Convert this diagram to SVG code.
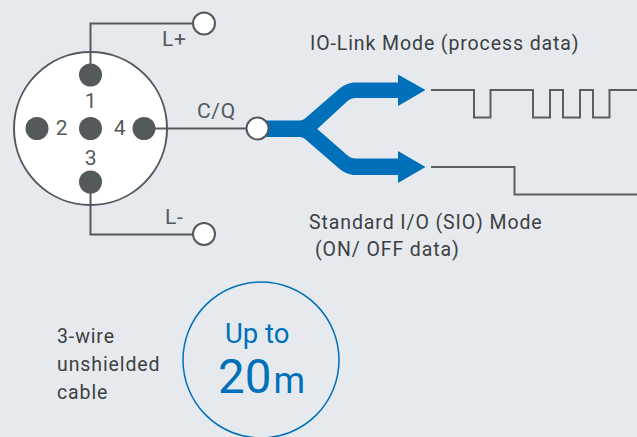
<svg xmlns="http://www.w3.org/2000/svg" width="637" height="437" viewBox="0 0 637 437">
<style>
text{font-family:Roboto,"Liberation Sans",sans-serif}
.w{fill:none;stroke:#54595c;stroke-width:2}
.p{fill:#54595c}
.t{fill:#fff;stroke:#54595c;stroke-width:2}
.l{fill:#54595c;font-size:21px;letter-spacing:.7px}
.m{fill:#3d4042;font-size:19.500px;letter-spacing:.9px}
.s{fill:none;stroke:#5a5f62;stroke-width:2}
</style>
<rect width="637" height="437" fill="#e6eaee"/>
<g id="connectors">
<path class="w" d="M90.500 60V23.500H195"/>
<path class="w" d="M90.500 185V234.500H195"/>
<path class="w" d="M155 128.500H250"/>
<path fill="#0070bb" d="M266 120.500H298C301 120.500 303 120 305 118.500L339 89C344 85 349 82.500 356 82.500H398V74.500L425.500 90L398 106V98H357C352 98 350 99 347 101.500L317.300 129L347 155C350 157.500 352 158.500 357 158.500H398V151L425.500 167L398 183V175H356C349 175 344 172.500 339 168.500L305 139C303 137.500 301 137 298 137H266Z"/>
<path class="s" d="M431 90H474V117.500H490.500V90H533V117.500H550V90H563V117.500H580V90H593V117.500H609.500V90H637"/>
<path class="s" d="M431 167H514.500V194.500H637"/>
</g>
<g id="connector-body">
<circle cx="90.500" cy="128.500" r="76.500" fill="#fff" stroke="#54595c" stroke-width="2"/>
<path class="w" d="M90.500 52V75M90.500 182V206M144 128.500H167"/>
<circle class="p" cx="90.500" cy="75" r="11.500"/>
<circle class="p" cx="37" cy="128.500" r="11.500"/>
<circle class="p" cx="90.500" cy="128.500" r="11.500"/>
<circle class="p" cx="144" cy="128.500" r="11.500"/>
<circle class="p" cx="90.500" cy="182" r="11.500"/>
<text class="l" x="91" y="108" text-anchor="middle">1</text>
<text class="l" x="62" y="135" text-anchor="middle">2</text>
<text class="l" x="91" y="165" text-anchor="middle">3</text>
<text class="l" x="120" y="135" text-anchor="middle">4</text>
</g>
<g id="terminal-lplus"><circle class="t" cx="204" cy="23.500" r="11"/><text class="l" x="162" y="46">L+</text></g>
<g id="terminal-cq"><circle class="t" cx="257.500" cy="128.500" r="11"/><text class="l" x="197" y="118">C/Q</text></g>
<g id="terminal-lminus"><circle class="t" cx="204" cy="234" r="11"/><text class="l" x="165" y="224">L-</text></g>
<g id="label-iolink"><text class="m" x="310" y="50">IO-Link Mode (process data)</text></g>
<g id="label-sio">
<text class="m" x="309" y="229">Standard I/O (SIO) Mode</text>
<text class="m" x="315" y="256">(ON/ OFF data)</text>
</g>
<g id="label-cable">
<text class="m" x="57" y="343">3-wire</text>
<text class="m" x="57" y="371">unshielded</text>
<text class="m" x="57" y="399">cable</text>
</g>
<g id="range">
<circle cx="261" cy="360" r="78" fill="none" stroke="#0070bb" stroke-width="1.500"/>
<text x="225" y="343" fill="#0070bb" font-size="27.500">Up to</text>
<text x="218" y="393" fill="#0070bb" font-size="47.500">20<tspan font-size="36" dx="2">m</tspan></text>
</g>
</svg>
